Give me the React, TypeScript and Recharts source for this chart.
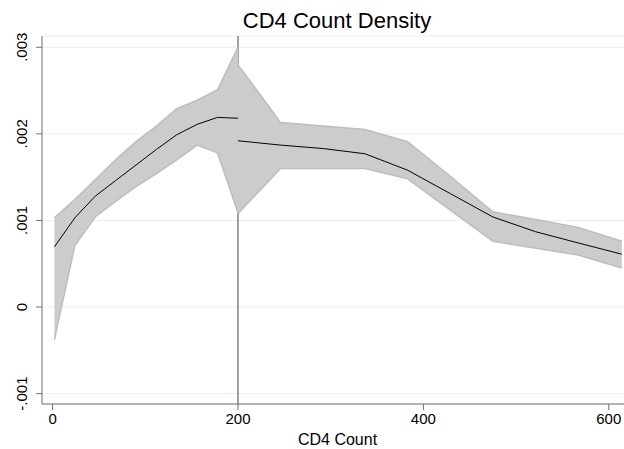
import React from "react";
import { ComposedChart, Area, Line, XAxis, YAxis, CartesianGrid, ReferenceLine } from "recharts";

const leftX = [2, 24, 46, 68, 90, 112, 134, 156, 178, 200];
const leftMean = [0.000695, 0.00103, 0.00128, 0.00146, 0.00164, 0.00182, 0.00199, 0.00211, 0.00219, 0.00218];
const leftLow = [-0.00038, 0.00071, 0.00104, 0.00122, 0.00139, 0.00154, 0.0017, 0.00187, 0.00178, 0.00109];
const leftHigh = [0.00103, 0.00124, 0.00147, 0.0017, 0.00191, 0.00209, 0.00229, 0.00239, 0.00251, 0.003];

const rightX = [200, 246, 292, 337, 383, 429, 475, 521, 567, 614];
const rightMean = [0.00192, 0.00187, 0.00183, 0.00177, 0.00158, 0.00131, 0.00104, 0.00087, 0.00074, 0.00061];
const rightLow = [0.00108, 0.0016, 0.0016, 0.0016, 0.00148, 0.00112, 0.00076, 0.00068, 0.0006, 0.00045];
const rightHigh = [0.0028, 0.00213, 0.00209, 0.00205, 0.00191, 0.00151, 0.0011, 0.00101, 0.00092, 0.00076];

const xTicks = [0, 200, 400, 600];
const yTicks = [-0.001, 0, 0.001, 0.002, 0.003];

const leftData = leftX.map((x, i) => ({ x, mean: leftMean[i], band: [leftLow[i], leftHigh[i]] }));
const rightData = rightX.map((x, i) => ({ x, mean: rightMean[i], band: [rightLow[i], rightHigh[i]] }));

const FONT = "'Liberation Sans', Arial, Helvetica, sans-serif";

const fmtY = (v: number) => {
  if (Math.abs(v) < 1e-12) return "0";
  const s = String(Math.round(Math.abs(v) * 1000)).padStart(3, "0");
  return (v < 0 ? "-" : "") + "." + s;
};

const XTick = (props: any) => (
  <text x={props.x} y={424} textAnchor="middle" fontSize={15} fontFamily={FONT} fill="#000">
    {props.payload.value}
  </text>
);

const YTick = (props: any) => {
  const cx = 27;
  const y = props.y;
  return (
    <text x={cx} y={y} transform={`rotate(-90 ${cx} ${y})`} textAnchor="middle" fontSize={15} fontFamily={FONT} fill="#000">
      {fmtY(props.payload.value)}
    </text>
  );
};

export default function App() {
  return (
    <div style={{ position: "absolute", left: 0, top: 0, width: 624, height: 449, background: "#fff" }}>
      <ComposedChart width={624} height={449} margin={{ top: 36, right: 0, bottom: 0, left: 0 }}>
        <CartesianGrid vertical={false} stroke="#e6eff1" strokeWidth={1} />
        <XAxis
          type="number"
          dataKey="x"
          domain={[-11.4, 616.4]}
          ticks={xTicks}
          allowDataOverflow
          height={45}
          tickSize={6}
          stroke="#707070"
          tick={<XTick />}
        />
        <YAxis
          type="number"
          domain={[-0.00112, 0.00313]}
          ticks={yTicks}
          allowDataOverflow
          width={42}
          tickSize={6}
          stroke="#707070"
          tick={<YTick />}
        />
        <ReferenceLine x={200} stroke="#444" strokeWidth={1} zIndex={50} />
        <Area
          data={leftData}
          dataKey="band"
          type="linear"
          fill="#cccccc"
          fillOpacity={1}
          stroke="#bdbdbd"
          strokeWidth={1.5}
          isAnimationActive={false}
        />
        <Area
          data={rightData}
          dataKey="band"
          type="linear"
          fill="#cccccc"
          fillOpacity={1}
          stroke="#bdbdbd"
          strokeWidth={1.5}
          isAnimationActive={false}
        />
        <Line data={leftData} dataKey="mean" type="linear" stroke="#000" strokeWidth={1} dot={false} isAnimationActive={false} />
        <Line data={rightData} dataKey="mean" type="linear" stroke="#000" strokeWidth={1} dot={false} isAnimationActive={false} />
      </ComposedChart>
      <svg width={624} height={449} style={{ position: "absolute", left: 0, top: 0, pointerEvents: "none" }}>
        <text x={337} y={28} textAnchor="middle" fontSize={22} fontFamily={FONT} fill="#000">
          CD4 Count Density
        </text>
        <text x={337.5} y={445} textAnchor="middle" fontSize={16} fontFamily={FONT} fill="#000">
          CD4 Count
        </text>
      </svg>
    </div>
  );
}
